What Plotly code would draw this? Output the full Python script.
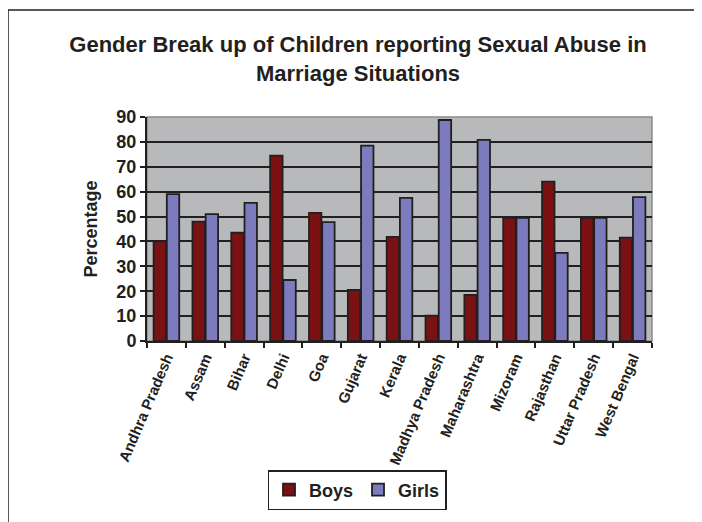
import plotly.graph_objects as go

states = ["Andhra Pradesh", "Assam", "Bihar", "Delhi", "Goa", "Gujarat", "Kerala",
          "Madhya Pradesh", "Maharashtra", "Mizoram", "Rajasthan", "Uttar Pradesh", "West Bengal"]
boys = [40, 48, 43.5, 74.5, 51.5, 20.5, 41.8, 10.2, 18.5, 49.5, 64, 49.5, 41.5]
girls = [59, 51, 55.5, 24.5, 47.8, 78.5, 57.5, 88.8, 80.8, 49.5, 35.4, 49.5, 57.8]
y_ticks = [0, 10, 20, 30, 40, 50, 60, 70, 80, 90]

W, H = 702, 522
OFF = 8  # page body margin offset
L, R, T, B = 147 - OFF, 702 - (652 - OFF), 117 - OFF, 522 - (341 - OFF)

fam = "Liberation Sans, Arial, Helvetica"
ink = "#231f20"

fig = go.Figure()
fig.add_trace(go.Bar(name="Boys", x=states, y=boys,
                     marker=dict(color="#7a1214", line=dict(color=ink, width=1.8))))
fig.add_trace(go.Bar(name="Girls", x=states, y=girls,
                     marker=dict(color="#7b7bbd", line=dict(color=ink, width=1.8))))

pw = W - L - R
ph = H - T - B
def px(x):
    return (x - OFF - L) / pw
def py(y):
    return (H - B - (y - OFF)) / ph

fig.update_layout(
    width=W, height=H,
    margin=dict(l=L, r=R, t=T, b=B, autoexpand=False),
    paper_bgcolor="white",
    plot_bgcolor="#b8b9bb",
    barmode="group",
    bargap=0.32,
    bargroupgap=0.06,
    title=dict(text="Gender Break up of Children reporting Sexual Abuse in<br>Marriage Situations",
               x=(358 - OFF) / W, xanchor="center", y=1 - (52 - OFF) / H, yanchor="top",
               font=dict(family=fam, size=22, color=ink, weight="bold")),
    showlegend=True,
    legend=dict(orientation="h", x=px(357), xanchor="center", y=py(490), yanchor="middle",
                bordercolor=ink, borderwidth=1.5, bgcolor="white",
                font=dict(family=fam, size=18, color=ink, weight="bold"),
                itemwidth=30, tracegroupgap=0),
    xaxis=dict(
        tickangle=-67, tickson="boundaries", ticks="outside", ticklen=5, tickwidth=1.5,
        tickcolor=ink, showline=True, linecolor=ink, linewidth=2, automargin=False,
        tickfont=dict(family=fam, size=15, color=ink, weight="bold"), showgrid=False,
    ),
    yaxis=dict(
        range=[0, 90], tickvals=y_ticks, ticks="outside", ticklen=5, tickwidth=1.5,
        tickcolor=ink, showline=True, linecolor=ink, linewidth=2, automargin=False,
        showgrid=True, gridcolor=ink, gridwidth=2, zeroline=False,
        tickfont=dict(family=fam, size=18, color=ink, weight="bold"),
        title=dict(text="Percentage", font=dict(family=fam, size=18, color=ink, weight="bold"), standoff=14),
    ),
    shapes=[
        dict(type="rect", xref="paper", yref="paper", x0=0, x1=1, y0=0, y1=1,
             line=dict(color="#8a8a8a", width=1.5), layer="below"),
        dict(type="line", xref="paper", yref="paper", x0=px(8), x1=px(W + 20), y0=py(10), y1=py(10),
             line=dict(color=ink, width=1.5)),
        dict(type="line", xref="paper", yref="paper", x0=px(8), x1=px(8), y0=py(10), y1=py(H + 20),
             line=dict(color=ink, width=1.5)),
    ],
)

fig.write_html("out.html")
